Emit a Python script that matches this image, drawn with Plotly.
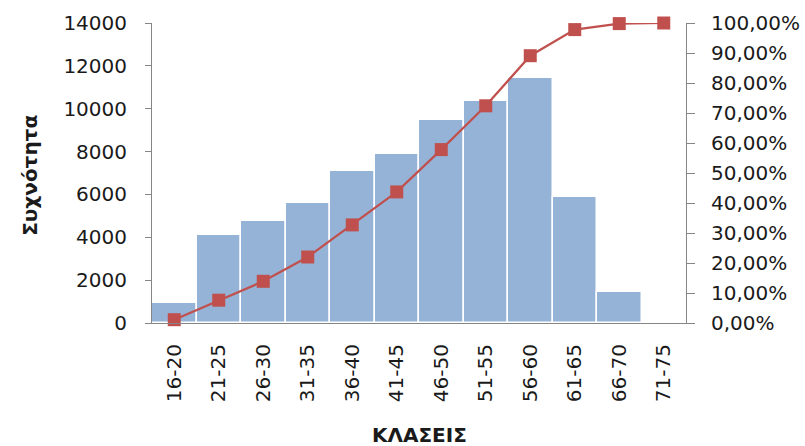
import plotly.graph_objects as go

categories = ["16-20", "21-25", "26-30", "31-35", "36-40", "41-45",
              "46-50", "51-55", "56-60", "61-65", "66-70", "71-75"]
frequency = [930, 4090, 4740, 5620, 7080, 7890, 9470, 10340, 11420, 5880, 1430, 0]
cumulative = [0.011, 0.076, 0.139, 0.220, 0.327, 0.437, 0.578, 0.724, 0.891, 0.978, 0.998, 1.0]

left_ticks = [0, 2000, 4000, 6000, 8000, 10000, 12000, 14000]
left_labels = ["0", "2000", "4000", "6000", "8000", "10000", "12000", "14000"]
right_ticks = [0, 0.1, 0.2, 0.3, 0.4, 0.5, 0.6, 0.7, 0.8, 0.9, 1.0]
right_labels = ["0,00%", "10,00%", "20,00%", "30,00%", "40,00%", "50,00%",
                "60,00%", "70,00%", "80,00%", "90,00%", "100,00%"]

font = "DejaVu Sans"
fsize = 20
axis_col = "#868686"
text_col = "#1a1a1a"

fig = go.Figure()
fig.add_trace(go.Bar(x=categories, y=frequency, marker_color="#95B3D7",
                     marker_line_color="white", marker_line_width=1.5,
                     showlegend=False, yaxis="y"))
fig.add_trace(go.Scatter(x=categories, y=cumulative, mode="lines+markers",
                         line=dict(color="#C0504D", width=2.2),
                         marker=dict(symbol="square", size=13, color="#C0504D"),
                         cliponaxis=False, showlegend=False, yaxis="y2"))

fig.update_layout(
    width=805, height=446,
    margin=dict(l=152, r=119, t=23, b=123, autoexpand=False),
    paper_bgcolor="white", plot_bgcolor="white",
    bargap=0,
    font=dict(family=font, size=fsize, color=text_col),
    xaxis=dict(type="category", domain=[0, 1], range=[-0.5, len(categories) - 0.5],
               tickangle=-90, showline=True,
               linecolor=axis_col, linewidth=1, ticks="", showgrid=False,
               automargin=False, ticklabelstandoff=12, tickfont=dict(size=fsize)),
    yaxis=dict(range=[0, 14000], tickmode="array", tickvals=left_ticks, ticktext=left_labels,
               showline=True, linecolor=axis_col, linewidth=1, ticks="outside",
               tickcolor=axis_col, ticklen=6, showgrid=False, zeroline=False,
               ticklabelstandoff=14, automargin=False),
    yaxis2=dict(range=[0, 1], tickmode="array", tickvals=right_ticks, ticktext=right_labels,
                overlaying="y", side="right", anchor="x",
                showline=True, linecolor=axis_col, linewidth=1, ticks="outside",
                tickcolor=axis_col, ticklen=8, showgrid=False, zeroline=False,
                ticklabelstandoff=12, automargin=False),
)

fig.add_annotation(text="<b>Συχνότητα</b>", xref="paper", yref="paper", x=-0.229, y=0.493,
                   xanchor="center", yanchor="middle", textangle=-90, showarrow=False,
                   font=dict(family=font, size=fsize, color=text_col))
fig.add_annotation(text="<b>ΚΛΑΣΕΙΣ</b>", xref="paper", yref="paper", x=0.5, y=-0.327,
                   xanchor="center", yanchor="top", showarrow=False,
                   font=dict(family=font, size=fsize, color=text_col))

fig.write_html("out.html", config={"displayModeBar": False},
               post_script="document.body.style.margin='0';")
